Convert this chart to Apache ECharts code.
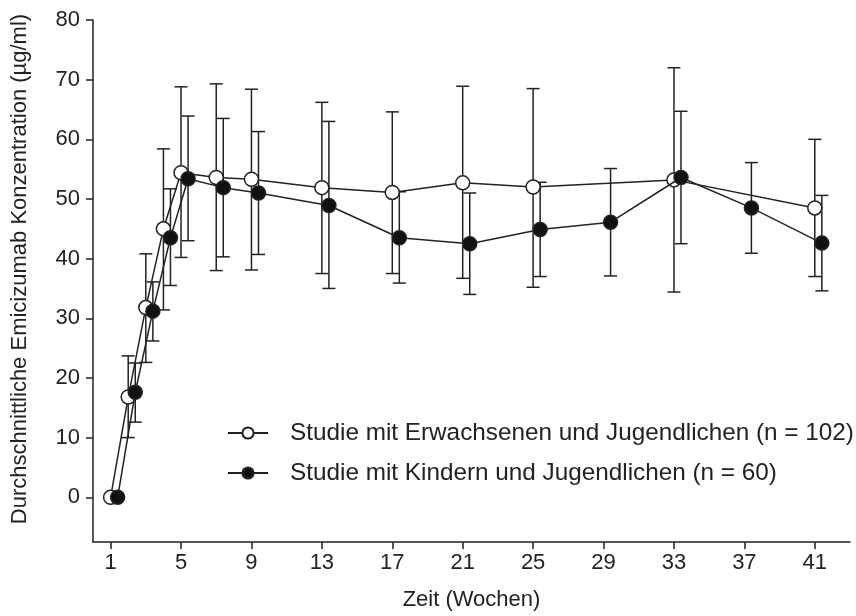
<!DOCTYPE html>
<html>
<head>
<meta charset="utf-8">
<script src="https://cdn.jsdelivr.net/npm/echarts@6/dist/echarts.min.js"></script>
<style>html,body{margin:0;padding:0;background:#fff}#c{width:856px;height:616px}</style>
</head>
<body>
<div id="c"></div>
<script>
// Study with adults and adolescents (open circles)
const weeksA = [1, 2, 3, 4, 5, 7, 9, 13, 17, 21, 25, 33, 41];
const meanA  = [0, 16.8, 31.8, 45.0, 54.4, 53.6, 53.3, 51.9, 51.1, 52.7, 52.0, 53.2, 48.5];
const lowA   = [0, 10.0, 22.6, 31.4, 40.2, 38.0, 38.1, 37.5, 37.5, 36.7, 35.2, 34.4, 37.0];
const highA  = [0, 23.7, 40.8, 58.4, 68.8, 69.3, 68.4, 66.2, 64.6, 68.9, 68.5, 72.0, 60.0];

// Study with children and adolescents (filled circles)
const weeksB = [1, 2, 3, 4, 5, 7, 9, 13, 17, 21, 25, 29, 33, 37, 41];
const meanB  = [0, 17.6, 31.2, 43.5, 53.4, 51.9, 51.0, 48.9, 43.5, 42.5, 44.9, 46.1, 53.6, 48.5, 42.6];
const lowB   = [0, 12.6, 26.2, 35.5, 43.0, 40.3, 40.7, 35.0, 35.9, 34.0, 37.0, 37.1, 42.5, 40.9, 34.6];
const highB  = [0, 22.5, 36.1, 51.7, 63.9, 63.5, 61.3, 63.0, 51.2, 51.0, 52.8, 55.1, 64.7, 56.1, 50.6];

const nameA = 'Studie mit Erwachsenen und Jugendlichen (n = 102)';
const nameB = 'Studie mit Kindern und Jugendlichen (n = 60)';
const xTicks = [1, 5, 9, 13, 17, 21, 25, 29, 33, 37, 41];
const yTicks = [0, 10, 20, 30, 40, 50, 60, 70, 80];

const offA = 0, offB = 0.4; // horizontal dodge (weeks) between the two studies
const ink = '#222';
const font = 'Liberation Sans, Arial, sans-serif';

function pts(w, m, off) { return w.map((x, i) => [x + off, m[i]]); }
function bars(w, lo, hi, off) { return w.map((x, i) => [x + off, lo[i], hi[i]]); }

function errRender(params, api) {
  const x = api.value(0), lo = api.value(1), hi = api.value(2);
  if (hi - lo <= 0) return null;
  const p1 = api.coord([x, hi]), p2 = api.coord([x, lo]);
  const hw = 6.5;
  const st = { stroke: ink, lineWidth: 1.5 };
  return { type: 'group', children: [
    { type: 'line', shape: { x1: p1[0], y1: p1[1], x2: p2[0], y2: p2[1] }, style: st },
    { type: 'line', shape: { x1: p1[0] - hw, y1: p1[1], x2: p1[0] + hw, y2: p1[1] }, style: st },
    { type: 'line', shape: { x1: p2[0] - hw, y1: p2[1], x2: p2[0] + hw, y2: p2[1] }, style: st }
  ]};
}

const chart = echarts.init(document.getElementById('c'), null, { renderer: 'canvas' });
chart.setOption({
  animation: false,
  backgroundColor: '#fff',
  textStyle: { fontFamily: font, color: ink },
  grid: { left: 93, right: 6, top: 20, bottom: 69, containLabel: false },
  legend: {
    orient: 'vertical', left: 222, top: 416, itemGap: 16,
    itemWidth: 40, itemHeight: 14,
    textStyle: { fontSize: 24.3, color: ink, fontFamily: font, padding: [0, 0, 0, 17] },
    data: [nameA, nameB]
  },
  xAxis: {
    type: 'value', min: 0, max: 43,
    name: 'Zeit (Wochen)', nameLocation: 'middle', nameGap: 47,
    nameTextStyle: { fontSize: 22, color: ink, fontFamily: font },
    axisLine: { onZero: false, lineStyle: { color: ink, width: 1.5 } },
    axisTick: { show: true, length: 7, lineStyle: { color: ink, width: 1.5 }, customValues: xTicks },
    axisLabel: { fontSize: 22, color: ink, margin: 10, customValues: xTicks },
    splitLine: { show: false }
  },
  yAxis: {
    type: 'value', min: -7.5, max: 80,
    name: 'Durchschnittliche Emicizumab Konzentration (µg/ml)', nameLocation: 'middle', nameGap: 62,
    nameTextStyle: { fontSize: 22, color: ink, fontFamily: font, padding: [0, 0, 0, 24] },
    axisLine: { show: true, onZero: false, lineStyle: { color: ink, width: 1.5 } },
    axisTick: { show: true, length: 7, lineStyle: { color: ink, width: 1.5 }, customValues: yTicks },
    axisLabel: { fontSize: 22, color: ink, margin: 13, customValues: yTicks },
    splitLine: { show: false }
  },
  series: [
    { type: 'custom', name: 'errA', renderItem: errRender, data: bars(weeksA, lowA, highA, offA), z: 1, silent: true, encode: { x: 0, y: [1, 2] } },
    { type: 'custom', name: 'errB', renderItem: errRender, data: bars(weeksB, lowB, highB, offB), z: 1, silent: true, encode: { x: 0, y: [1, 2] } },
    { type: 'line', name: nameA, data: pts(weeksA, meanA, offA), z: 3,
      symbol: 'circle', symbolSize: 14, showAllSymbol: true,
      lineStyle: { color: ink, width: 1.5 },
      itemStyle: { color: '#fff', borderColor: ink, borderWidth: 1.5 } },
    { type: 'line', name: nameB, data: pts(weeksB, meanB, offB), z: 4,
      symbol: 'circle', symbolSize: 14, showAllSymbol: true,
      lineStyle: { color: ink, width: 1.5 },
      itemStyle: { color: '#111', borderColor: ink, borderWidth: 1.5 } }
  ]
});
</script>
</body>
</html>
